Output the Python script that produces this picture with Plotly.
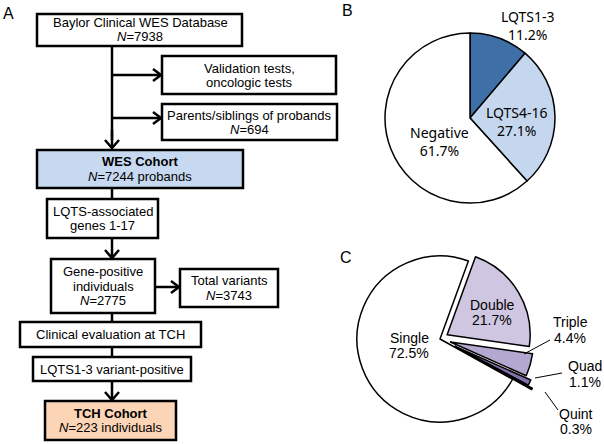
import plotly.graph_objects as go

W, H = 604, 444

# ---------------- data ----------------
b_labels = ["LQTS1-3", "LQTS4-16", "Negative"]
b_values = [11.2, 27.1, 61.7]
b_colors = ["#3e6fa7", "#c5d7ee", "#ffffff"]

c_labels = ["Double", "Triple", "Quad", "Quint", "Single"]
c_values = [21.7, 4.4, 1.1, 0.3, 72.5]
c_colors = ["#cfc6e1", "#b5a8d0", "#8470ae", "#1e1830", "#ffffff"]
c_pull = [0.10, 0.13, 0.20, 0.26, 0.0]

flow_n = {"database": 7938, "parents": 694, "wes": 7244, "genepos": 2775,
          "variants": 3743, "tch": 223}

ARIAL = "Liberation Sans, Arial, sans-serif"
CALIBRI = "Noto Sans, Carlito, Calibri, sans-serif"
FS = 13


def X(px):
    return px / W


def Y(py):
    return 1 - py / H


fig = go.Figure()

fig.add_trace(go.Pie(
    labels=b_labels, values=b_values, sort=False, direction="clockwise", rotation=0,
    marker=dict(colors=b_colors, line=dict(color="black", width=1.5)),
    textinfo="none", hoverinfo="label+value",
    domain=dict(x=[X(385), X(555)], y=[Y(203), Y(33)]),
))

fig.add_trace(go.Pie(
    labels=c_labels, values=c_values, sort=False, direction="clockwise", rotation=20,
    pull=c_pull,
    marker=dict(colors=c_colors, line=dict(color="black", width=1.5)),
    textinfo="none", hoverinfo="label+value",
    domain=dict(x=[X(335.4), X(544.6)], y=[Y(443.6), Y(234.4)]),
))

shapes = []
annotations = []


def box(x0, y0, x1, y1, fill="white"):
    shapes.append(dict(type="rect", xref="paper", yref="paper",
                       x0=X(x0), x1=X(x1), y0=Y(y1), y1=Y(y0),
                       line=dict(color="black", width=2.5), fillcolor=fill, layer="above"))


def line(x0, y0, x1, y1, w=2.5):
    shapes.append(dict(type="line", xref="paper", yref="paper",
                       x0=X(x0), y0=Y(y0), x1=X(x1), y1=Y(y1),
                       line=dict(color="black", width=w), layer="above"))


def chevron(pts, w=2.5):
    path = "M " + " L ".join(f"{X(a)},{Y(b)}" for a, b in pts)
    shapes.append(dict(type="path", xref="paper", yref="paper", path=path,
                       line=dict(color="black", width=w), layer="above"))


def arrow_down(x, y0, y1):
    line(x, y0, x, y1 - 1)
    chevron([(x - 7, y1 - 8), (x, y1), (x + 7, y1 - 8)])


def arrow_right(y, x0, x1):
    line(x0, y, x1 - 1, y)
    chevron([(x1 - 8, y - 6), (x1, y), (x1 - 8, y + 6)])


def txt(x, y, s, size=FS, family=ARIAL, xanchor="center"):
    annotations.append(dict(x=X(x), y=Y(y), xref="paper", yref="paper", text=s,
                            showarrow=False, xanchor=xanchor, yanchor="middle",
                            font=dict(family=family, size=size, color="black")))


def lines(x, yc, texts, pitch=14.5, **kw):
    n = len(texts)
    for i, t in enumerate(texts):
        txt(x, yc + (i - (n - 1) / 2) * pitch, t, **kw)


# ---------------- flowchart ----------------
AX = 112
# connectors
line(AX, 46, AX, 140)
arrow_down(AX, 130, 148)
arrow_right(75, AX, 161)
arrow_right(118, AX, 161)
line(AX, 188, AX, 199)
arrow_down(AX, 238, 258)
arrow_right(287, 155, 179)
line(AX, 313, AX, 322)
line(AX, 347, AX, 357)
arrow_down(AX, 381, 400)

box(37, 14, 242, 46)
lines(140, 29.5, ["Baylor Clinical WES Database", f"<i>N</i>={flow_n['database']}"])

box(162, 56, 336, 94)
lines(249, 75.5, ["Validation tests,", "oncologic tests"])

box(162, 104, 337, 140)
lines(249.5, 122.5, ["Parents/siblings of probands", f"<i>N</i>={flow_n['parents']}"])

box(37, 150, 243, 188, fill="#c6d9f1")
lines(140, 169, ["<b>WES Cohort</b>", f"<i>N</i>={flow_n['wes']} probands"])

box(47, 199, 158, 238)
lines(102.5, 218.5, ["LQTS-associated", "genes 1-17"])

box(51, 259, 155, 313)
lines(103, 286, ["Gene-positive", "individuals", f"<i>N</i>={flow_n['genepos']}"])

box(180, 269, 278, 307)
lines(229, 288, ["Total variants", f"<i>N</i>={flow_n['variants']}"])

box(20, 322, 201, 347)
txt(110.5, 334.5, "Clinical evaluation at TCH")

box(33, 357, 191, 381)
txt(112, 369, "LQTS1-3 variant-positive")

box(45, 401, 176, 440, fill="#fbd5b6")
lines(110.5, 420.5, ["<b>TCH Cohort</b>", f"<i>N</i>={flow_n['tch']} individuals"])

# panel letters
txt(8, 13, "A", size=16)
txt(347, 11, "B", size=16)
txt(346, 257, "C", size=16)

# ---------------- pie B labels ----------------
b_pos = [(528, 26), (517, 121), (439, 141)]
for (lx, ly), lab, v in zip(b_pos, b_labels, b_values):
    txt(lx, ly, f"{lab}<br>{v:.1f}%", size=14, family=CALIBRI)

# ---------------- pie C labels ----------------
c_pos = [(492, 312.5), (570, 330), (585, 374), (576, 421.5), (409, 345.5)]
for (lx, ly), lab, v in zip(c_pos, c_labels, c_values):
    lines(lx, ly, [lab, f"{v:.1f}%"], pitch=15.5, size=14)

# leader lines
line(524, 354, 550, 340, w=1)
line(535, 378, 562, 373, w=1)
line(545, 392, 558, 410, w=1)

fig.update_layout(
    width=W, height=H, margin=dict(l=0, r=0, t=0, b=0),
    paper_bgcolor="white", plot_bgcolor="white", showlegend=False,
    shapes=shapes, annotations=annotations,
)

fig.write_html("out.html", config={"displayModeBar": False},
               post_script="document.body.style.margin='0';document.body.style.padding='0';document.body.style.overflow='hidden';")
